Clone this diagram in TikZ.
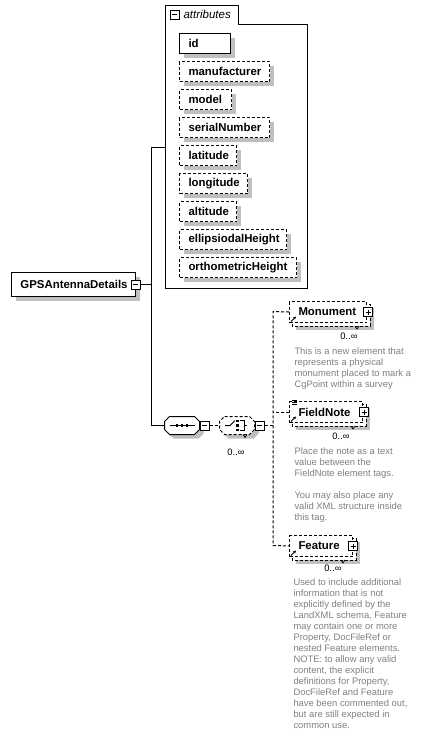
\documentclass[tikz,border=0pt]{standalone}
\usepackage{fontspec}
\setmainfont{Liberation Sans}
\usetikzlibrary{shadows,backgrounds,arrows.meta}
\definecolor{shadowgray}{gray}{0.75}
\definecolor{desccol}{gray}{0.5}
\newcommand\octo[2]{([xshift=#2]#1.north west) -- ([xshift=-#2]#1.north east) -- ([yshift=-#2]#1.north east) -- ([yshift=#2]#1.south east) -- ([xshift=-#2]#1.south east) -- ([xshift=#2]#1.south west) -- ([yshift=#2]#1.south west) -- ([yshift=-#2]#1.north west) -- cycle}
\tikzset{
  opt/.style={dash pattern=on 3pt off 2pt},
  boxshadow/.style={general shadow={fill=shadowgray, shadow xshift=4pt, shadow yshift=-4pt}},
  namefont/.style={font=\fontsize{11.4}{13}\selectfont\bfseries},
  attrbox/.style={draw, fill=white, boxshadow, anchor=north west, minimum height=20pt,
    inner xsep=0pt, inner ysep=0pt, text width=#1, align=left, namefont,
    execute at begin node={\hspace*{9pt}}},
  elbox/.style={draw, opt, fill=white, anchor=north west, minimum height=21pt,
    inner xsep=0pt, inner ysep=0pt, text width=#1, align=left, namefont,
    execute at begin node={\hspace*{9pt}}},
  iconbox/.style={draw, solid, fill=white, minimum size=9pt, inner sep=0pt},
  minusbox/.style={iconbox, path picture={\draw[line width=1pt]
    ([xshift=2pt]path picture bounding box.west) -- ([xshift=-2pt]path picture bounding box.east);}},
  plusbox/.style={iconbox, path picture={\draw[line width=1pt]
    ([xshift=2pt]path picture bounding box.west) -- ([xshift=-2pt]path picture bounding box.east)
    ([yshift=-2pt]path picture bounding box.north) -- ([yshift=2pt]path picture bounding box.south);}},
  multtext/.style={font=\fontsize{9.4}{11}\selectfont, inner sep=0pt},
  desctext/.style={font=\fontsize{9.4}{11}\selectfont, text=desccol, anchor=north west,
    inner sep=0pt, align=left},
  octnode/.style={minimum width=34pt, minimum height=17pt, inner sep=0pt},
}
\begin{document}
\begin{tikzpicture}[x=1pt, y=-1pt, line width=1pt]
\useasboundingbox (0,0) rectangle (424,737);

% attributes container
\draw (165,288) -- (165,5) -- (238,5) -- (238,24) -- (307,24) -- (307,288) -- cycle;
\node[minusbox] (attrminus) at (174.5,14.5) {};
\node[anchor=west, inner sep=0pt, font=\fontsize{11.5}{13}\selectfont\itshape] (attrlabel) at (183,14.5) {attributes};
\coordinate (attrin) at (165,147);

\node[attrbox=51pt] (id) at (179,33) {id};
\node[attrbox=90pt, opt] (manufacturer) at (179,61) {manufacturer};
\node[attrbox=52pt, opt] (model) at (179,89) {model};
\node[attrbox=90pt, opt] (serialNumber) at (179,117) {serialNumber};
\node[attrbox=57pt, opt] (latitude) at (179,145) {latitude};
\node[attrbox=68pt, opt] (longitude) at (179,173) {longitude};
\node[attrbox=57pt, opt] (altitude) at (179,201) {altitude};
\node[attrbox=107pt, opt] (ellipsiodalHeight) at (179,229) {ellipsiodalHeight};
\node[attrbox=117pt, opt] (orthometricHeight) at (179,257) {orthometricHeight};

% root element
\node[attrbox=124pt, minimum height=24pt] (gps) at (11,272) {GPSAntennaDetails};
\node[minusbox] (gpsminus) at (135.5,284.5) {};
\coordinate (vtop) at (151,147);
\coordinate (vbot) at (151,425.5);
\draw (gpsminus.east) -- (gpsminus.east -| vtop);

% sequence
\node[octnode] (seq) at (182,425.5) {};
\fill[shadowgray, transform canvas={shift={(4pt,-4pt)}}] \octo{seq}{5pt};
\draw[fill=white] \octo{seq}{5pt};
\draw ([xshift=5pt]seq.west) -- ([xshift=-5pt]seq.east);
\foreach \dx in {-5,0,5}
  \fill ([xshift=\dx pt]seq.center) +(-1.3pt,-1.3pt) rectangle +(1.3pt,1.3pt);
\node[minusbox] (seqminus) at (204.5,425.5) {};
\draw (attrin) -- (vtop) -- (vbot) -- (seq.west);

% choice
\node[octnode] (choice) at (237,425.5) {};
\fill[shadowgray, transform canvas={shift={(4pt,-4pt)}}] \octo{choice}{5pt};
\draw[opt, fill=white] \octo{choice}{5pt};
\draw[line width=0.8pt] ([xshift=6pt]choice.south) -- ++(2pt,-3pt) -- ++(2pt,3pt);
\draw ([xshift=-12pt]choice.center) -- ([xshift=-7pt]choice.center) -- ([shift={(-2pt,5pt)}]choice.center);
\foreach \dy in {-4.5,0,4.5}
  \fill ([shift={(0.5pt,\dy pt)}]choice.center) +(-1.3pt,-1.3pt) rectangle +(1.3pt,1.3pt);
\draw ([shift={(3pt,5pt)}]choice.center) -- ++(4pt,0pt) -- ++(0pt,-10pt) -- ++(-4pt,0pt);
\draw ([xshift=7pt]choice.center) -- ++(3pt,0pt);
\node[minusbox] (choiceminus) at (259.5,425.5) {};
\node[multtext] (choicemult) at (236,452) {0..∞};
\draw[opt] (seqminus.east) -- (choice.west);

% child elements
\node[elbox=77pt] (mon) at (289,301) {Monument};
\node[elbox=73pt] (fn) at (289,401) {FieldNote};
\node[elbox=63pt] (feat) at (289,535) {Feature};
\begin{scope}[on background layer]
\foreach \n in {mon,fn,feat}{
  \fill[shadowgray] ([shift={(7pt,-7pt)}]\n.north west) rectangle ([shift={(7pt,-7pt)}]\n.south east);
  \draw[opt, fill=white] ([shift={(3pt,-3pt)}]\n.north west) rectangle ([shift={(3pt,-3pt)}]\n.south east);
}
\end{scope}
\foreach \n in {mon,fn,feat}{
  \draw[-{Stealth[length=3pt,width=3pt]}, line width=0.8pt] ([shift={(2pt,1.5pt)}]\n.south west) -- ++(5pt,5pt);
  \draw[line width=0.7pt] ([shift={(-12pt,-3pt)}]\n.south east) -- ++(2pt,-3pt) -- ++(2pt,3pt);
}
\foreach \k in {0,2,4}
  \draw[line width=0.7pt] ([shift={(3pt,1pt-\k pt)}]fn.north west) -- ++(5pt,0pt);
\node[plusbox] (monplus) at ([xshift=1pt]mon.east) {};
\node[plusbox] (fnplus) at ([xshift=1pt]fn.east) {};
\node[plusbox] (featplus) at ([xshift=0pt]feat.east) {};

\coordinate (sptop) at (273,311.5);
\coordinate (spbot) at (273,545.5);
\draw[opt] (choiceminus.east) -- (choiceminus.east -| sptop);
\draw[opt] (mon.west) -- (sptop) -- (spbot) -- (feat.west);
\draw[opt] (fn.west) -- (fn.west -| sptop);

\node[multtext] (monmult) at (349,336) {0..∞};
\node[multtext] (fnmult) at (341,436) {0..∞};
\node[multtext] (featmult) at (333,568) {0..∞};

\node[desctext] (mondesc) at (294,347.5) {This is a new element that\\represents a physical\\monument placed to mark a\\CgPoint within a survey};
\node[desctext] (fndesc) at (294,447.5) {Place the note as a text\\value between the\\FieldNote element tags.\\[11pt]You may also place any\\valid XML structure inside\\this tag.};
\node[desctext] (featdesc) at (293,578.5) {Used to include additional\\information that is not\\explicitly defined by the\\LandXML schema, Feature\\may contain one or more\\Property, DocFileRef or\\nested Feature elements.\\NOTE: to allow any valid\\content, the explicit\\definitions for Property,\\DocFileRef and Feature\\have been commented out,\\but are still expected in\\common use.};
\end{tikzpicture}
\end{document}
